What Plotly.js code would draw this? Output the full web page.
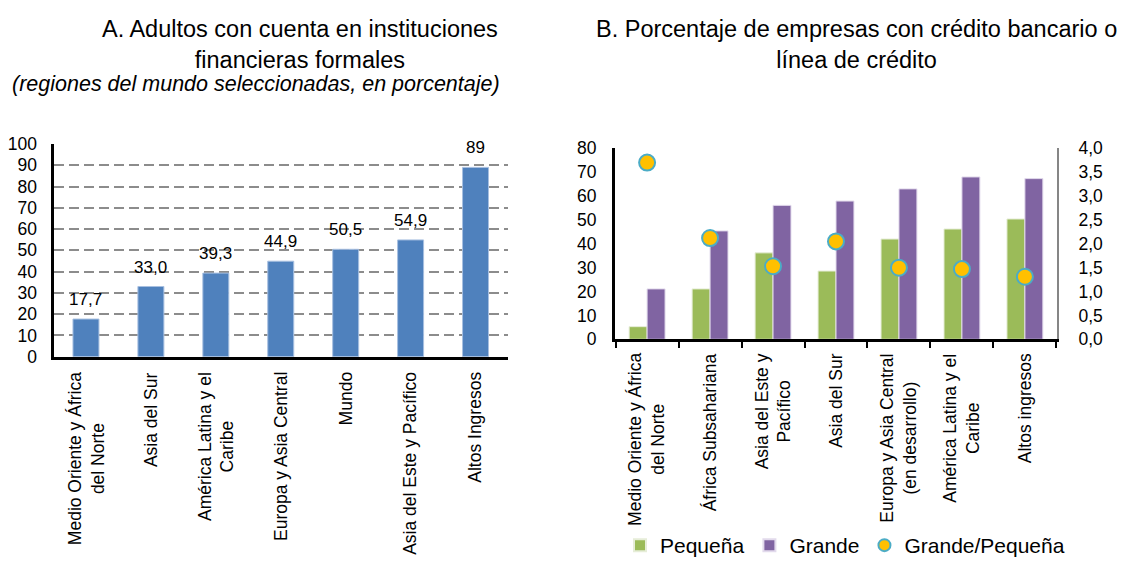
<!DOCTYPE html>
<html>
<head>
<meta charset="utf-8">
<script src="https://cdn.plot.ly/plotly-3.0.1.min.js"></script>
<style>
  html, body { margin: 0; padding: 0; background: #fff; }
  #chart { width: 1123px; height: 566px; }
</style>
</head>
<body>
<div id="chart"></div>
<script>
// ---- Panel A data ----
const catsA = ["Medio Oriente y África<br>del Norte", "Asia del Sur", "América Latina y el<br>Caribe", "Europa y Asia Central", "Mundo", "Asia del Este y Pacífico", "Altos Ingresos"];
const valuesA = [17.7, 33.0, 39.3, 44.9, 50.5, 54.9, 89];
const textA = ["17,7", "33,0", "39,3", "44,9", "50,5", "54,9", "89"];

// ---- Panel B data ----
const catsB = ["Medio Oriente y África<br>del Norte", "África Subsahariana", "Asia del Este y<br>Pacífico", "Asia del Sur", "Europa y Asia Central<br>(en desarrollo)", "América Latina y el<br>Caribe", "Altos ingresos"];
const pequena = [5.3, 21.1, 36.2, 28.6, 42.0, 46.2, 50.4];
const grande = [21.1, 45.4, 56.1, 57.9, 63.0, 68.0, 67.3];
const ratio = [3.70, 2.12, 1.53, 2.05, 1.50, 1.47, 1.31];

const titleA = "A. Adultos con cuenta en instituciones<br>financieras formales";
const subtitleA = "(regiones del mundo seleccionadas, en porcentaje)";
const titleB = "B. Porcentaje de empresas con crédito bancario o<br>línea de crédito";

const FONT = "Liberation Sans, Arial, Helvetica, sans-serif";
const W = 1123, H = 566;
const MB = 18;            // bottom margin reserved for the legend
const HP = H - MB;        // paper height in px
const px = v => v / W;
const py = v => 1 - v / HP;   // v = px from top of the figure

const traces = [
  {
    type: "bar", x: catsA, y: valuesA, xaxis: "x", yaxis: "y", width: 0.4,
    marker: { color: "#4F81BD", line: { color: "#A7BFE0", width: 1 } },
    showlegend: false, hoverinfo: "x+y"
  },
  {
    type: "bar", name: "Pequeña", x: catsB, y: pequena, xaxis: "x2", yaxis: "y2",
    marker: { color: "#9BBB59", line: { color: "#E6EDD8", width: 1 } }
  },
  {
    type: "bar", name: "Grande", x: catsB, y: grande, xaxis: "x2", yaxis: "y2",
    marker: { color: "#8064A2", line: { color: "#E2DAEC", width: 1 } }
  },
  {
    type: "scatter", mode: "markers", name: "Grande/Pequeña", x: catsB, y: ratio, xaxis: "x2", yaxis: "y3",
    marker: { color: "#FFC000", size: 16, line: { color: "#4BACC6", width: 2 } }
  }
];

const LBL = 17.5;
const annotations = valuesA.map((v, i) => ({
  x: catsA[i], y: v, xref: "x", yref: "y", text: textA[i], showarrow: false,
  yanchor: "bottom", yshift: 8, font: { size: 17, color: "#000", family: FONT }
}));
// category labels (rotated, centred lines)
catsA.forEach(c => annotations.push({
  x: c, y: 0, xref: "x", yref: "y", text: c, showarrow: false, textangle: -90,
  xanchor: "center", yanchor: "top", align: "center", yshift: -13,
  font: { size: LBL, color: "#000", family: FONT }
}));
catsB.forEach(c => annotations.push({
  x: c, y: 0, xref: "x2", yref: "y2", text: c, showarrow: false, textangle: -90,
  xanchor: "center", yanchor: "top", align: "center", yshift: -12,
  font: { size: LBL, color: "#000", family: FONT }
}));
annotations.push(
  { x: px(300), y: py(14), xref: "paper", yref: "paper", text: titleA, showarrow: false,
    xanchor: "center", yanchor: "top", align: "center", font: { size: 23.5, color: "#000", family: FONT } },
  { x: px(10), y: py(84), xref: "paper", yref: "paper", text: "<i>" + subtitleA + "</i>", showarrow: false,
    xanchor: "left", yanchor: "middle", font: { size: 21.5, color: "#000", family: FONT } },
  { x: px(856), y: py(14), xref: "paper", yref: "paper", text: titleB, showarrow: false,
    xanchor: "center", yanchor: "top", align: "center", font: { size: 23.5, color: "#000", family: FONT } }
);

const layout = {
  width: W, height: H,
  margin: { l: 0, r: 0, t: 0, b: MB, pad: 0 },
  paper_bgcolor: "#fff", plot_bgcolor: "rgba(0,0,0,0)",
  font: { family: FONT, color: "#000", size: 16 },
  separators: ",.",
  barmode: "group",
  bargap: 0.43,
  bargroupgap: 0,
  showlegend: true,
  legend: {
    orientation: "h", x: px(620), y: py(H), xanchor: "left", yanchor: "bottom",
    font: { size: 21, family: FONT, color: "#000" }, itemsizing: "constant",
    bgcolor: "rgba(0,0,0,0)"
  },
  xaxis: {
    domain: [px(53.5), px(508)], anchor: "y", type: "category",
    showline: true, linecolor: "#000", linewidth: 3,
    ticks: "", showticklabels: false, showgrid: false, fixedrange: true
  },
  yaxis: {
    domain: [py(356.7), py(144)], anchor: "x",
    range: [0, 100], dtick: 10, tick0: 0,
    showline: true, linecolor: "#000", linewidth: 3,
    ticks: "", ticklabelstandoff: 10,
    tickfont: { size: 17.5, family: FONT, color: "#000" },
    showgrid: true, gridcolor: "#8C8C8C", gridwidth: 2, griddash: "10px,5px",
    zeroline: false, fixedrange: true
  },
  xaxis2: {
    domain: [px(615), px(1057)], anchor: "y2", type: "category",
    showline: true, linecolor: "#000", linewidth: 3,
    ticks: "outside", ticklen: 6, tickwidth: 2, tickcolor: "#000", tickson: "boundaries",
    showticklabels: false, showgrid: false, fixedrange: true
  },
  yaxis2: {
    domain: [py(339.3), py(148.3)], anchor: "x2",
    range: [0, 80], dtick: 10, tick0: 0,
    showline: true, linecolor: "#000", linewidth: 3,
    ticks: "", ticklabelstandoff: 12,
    tickfont: { size: 17.5, family: FONT, color: "#000" },
    showgrid: false, zeroline: false, fixedrange: true
  },
  yaxis3: {
    overlaying: "y2", anchor: "x2", side: "right",
    range: [0, 4], dtick: 0.5, tick0: 0, tickformat: ".1f",
    showline: true, linecolor: "#868686", linewidth: 2,
    ticks: "", ticklabelstandoff: 16,
    tickfont: { size: 17.5, family: FONT, color: "#000" },
    showgrid: false, zeroline: false, fixedrange: true
  },
  annotations: annotations
};

Plotly.newPlot("chart", traces, layout, { staticPlot: true, displayModeBar: false });
</script>
</body>
</html>
